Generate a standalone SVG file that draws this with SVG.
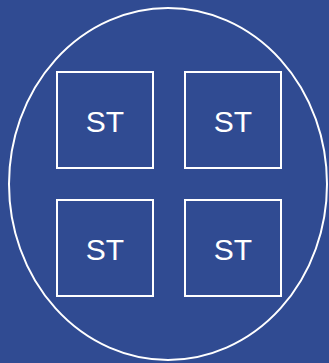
<svg xmlns="http://www.w3.org/2000/svg" width="329" height="363" viewBox="0 0 329 363">
<style>
.box{fill:none;stroke:#ffffff;stroke-width:2}
.lbl{fill:#ffffff;font-family:"Liberation Sans",Arial,sans-serif;font-size:30px;text-anchor:middle}
</style>
<rect x="0" y="0" width="329" height="363" fill="#304B92"/>
<g id="outer"><ellipse cx="168" cy="184" rx="159" ry="176" fill="none" stroke="#ffffff" stroke-width="2"/></g>
<g id="st1"><rect class="box" x="57" y="72" width="96" height="96"/><text class="lbl" x="105" y="132">ST</text></g>
<g id="st2"><rect class="box" x="185" y="72" width="96" height="96"/><text class="lbl" x="233" y="132">ST</text></g>
<g id="st3"><rect class="box" x="57" y="200" width="96" height="96"/><text class="lbl" x="105" y="260">ST</text></g>
<g id="st4"><rect class="box" x="185" y="200" width="96" height="96"/><text class="lbl" x="233" y="260">ST</text></g>
<g id="connectors"></g>
</svg>
